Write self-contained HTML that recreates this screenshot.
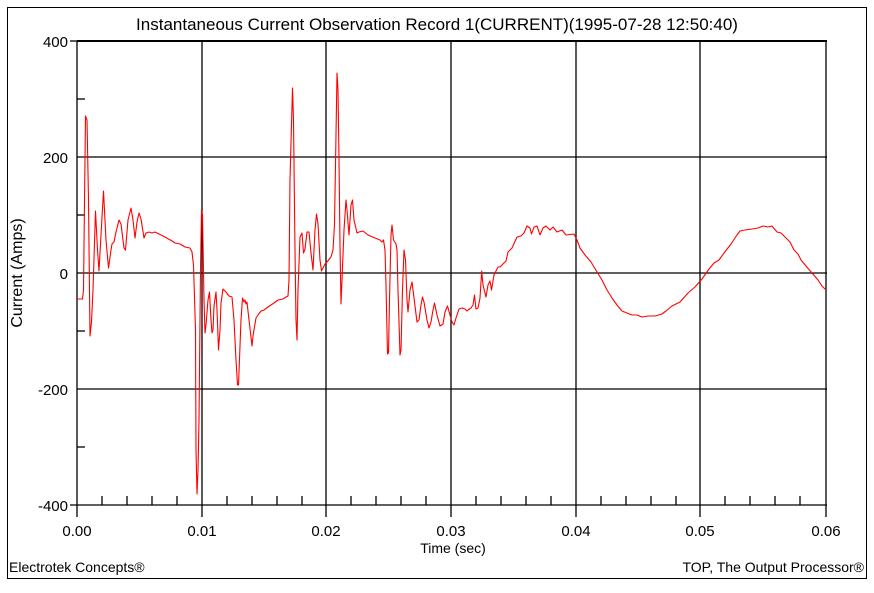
<!DOCTYPE html>
<html><head><meta charset="utf-8"><style>
body{margin:0;background:#fff}
svg text{font-family:"Liberation Sans",Arial,sans-serif;fill:#000}
</style></head><body>
<svg width="874" height="588" viewBox="0 0 874 588" xmlns="http://www.w3.org/2000/svg">
<rect x="7.5" y="7.5" width="859" height="571" fill="none" stroke="#000" stroke-width="1"/>
<text x="437" y="30" font-size="17" text-anchor="middle">Instantaneous Current Observation Record 1(CURRENT)(1995-07-28 12:50:40)</text>
<g stroke="#000" stroke-width="1.3" fill="none">
<line x1="77" y1="41" x2="827" y2="41" stroke-width="2"/>
<line x1="77" y1="41" x2="77" y2="517"/>
<line x1="70" y1="41" x2="77" y2="41"/>
<line x1="70" y1="505" x2="827" y2="505"/>
<line x1="77" y1="157" x2="827" y2="157"/>
<line x1="77" y1="273" x2="827" y2="273"/>
<line x1="77" y1="389" x2="827" y2="389"/>
<line x1="202" y1="41" x2="202" y2="517"/>
<line x1="326" y1="41" x2="326" y2="517"/>
<line x1="451" y1="41" x2="451" y2="517"/>
<line x1="576" y1="41" x2="576" y2="517"/>
<line x1="700" y1="41" x2="700" y2="517"/>
<line x1="826" y1="41" x2="826" y2="517"/>
<line x1="77" y1="99" x2="85" y2="99"/>
<line x1="77" y1="215" x2="85" y2="215"/>
<line x1="77" y1="331" x2="85" y2="331"/>
<line x1="77" y1="447" x2="85" y2="447"/>
<path d="M102 496V505M127 496V505M152 496V505M177 496V505M227 496V505M252 496V505M277 496V505M302 496V505M351 496V505M376 496V505M401 496V505M426 496V505M476 496V505M501 496V505M526 496V505M551 496V505M601 496V505M626 496V505M651 496V505M676 496V505M725 496V505M750 496V505M775 496V505M800 496V505"/>
</g>
<g font-size="15" text-anchor="end">
<text x="68" y="47">400</text>
<text x="68" y="163">200</text>
<text x="68" y="279">0</text>
<text x="68" y="395">-200</text>
<text x="68" y="511">-400</text>
</g>
<g font-size="15" text-anchor="middle">
<text x="77" y="536">0.00</text>
<text x="202" y="536">0.01</text>
<text x="326" y="536">0.02</text>
<text x="451" y="536">0.03</text>
<text x="576" y="536">0.04</text>
<text x="700" y="536">0.05</text>
<text x="826" y="536">0.06</text>
</g>
<text x="453" y="553" font-size="14" text-anchor="middle">Time (sec)</text>
<text transform="translate(22,273) rotate(-90)" font-size="16" text-anchor="middle">Current (Amps)</text>
<text x="9" y="572" font-size="14">Electrotek Concepts®</text>
<text x="864" y="572" font-size="14" text-anchor="end">TOP, The Output Processor®</text>
<polyline fill="none" stroke="#f00" stroke-width="1.1" stroke-linejoin="round" points="77,299 82.5,299 83.5,290 85.5,116 87,120 88.5,200 90,336 91.5,322 93,290 95.5,211 97.5,250 99,271 101,235 103.5,191 106,240 108.5,268 111,250 112,244 114,242 116,232 119,220 121,224 124,248 125.5,250 128,220 131,208 133,220 135,238 137,222 139,213 141,219 144,238 146,233 149,232 152,233 155,232 159,234 165,237 172,241 175,243 180,244 185,247 190,248 192,252 193.5,265 195.5,330 196,450 197,494 198,470 199,420 200.5,270 201.5,210 202.5,215 204,300 205,333 206,325 208,300 209.5,292 211,320 212,333 213,330 214,306 216,292 217,310 218.5,350 220,330 221,303 223,289 226,292 229,296 232,297 234,320 236,360 237.5,385 238.5,385 241,320 242.5,298 244,302 245,300 246,304 247,302 249,320 252,346 253,336 256,318 258,315 261,311 264,310 268,307 271,305 274,303 278,300 283,299 286,297 288,296 289,280 290,180 292.5,88 293.5,120 295,250 296,320 297,340 298,290 300,237 302,233 303.5,253 305,249 307,232 309,232 311,253 313,270 315,230 316.5,214 318,224 320,260 321.5,271 323,268 325,264 327,262 331,257 333,250 334.5,224 336,135 337,73 338,90 339,160 340,245 341,304 342,280 344,230 346,200 347,210 349,235 351,205 352.5,200 354,220 357,233 359,232 363,231 368,235 375,238 380,240 382,242 383.5,240 385,250 386,285 387.5,354 388.5,353 389.5,300 391,235 392,225 393.5,240 396,244 397,250 398,290 400,355 401,350 402.5,290 404,250 405.5,260 407,300 408,312 410,290 412,282 414,298 417,322 419,320 421,305 422.5,297 424,302 427,320 429,328 431,322 433,310 434.5,303 437,315 440,326 443,324 445,312 447.5,306 450,315 452,322 454,325 456,318 459,309 462,308 465,309 467,311 468,310 471,308 473,305 474.5,295 476,309 478,308 480,298 481.7,271 483,285 486,297 488,285 490,281 491.5,290 494,275 498,267 500,267 503,264 506,261 508,252 512,248 517,237 521,236 524,233 527,226 530,228 531.5,234 534,227 537,226 540,235 543,228 546,226 550,230 553,227 557,232 562,230 566,235 574,234 577,240 580,248 585,255 591,262 597,272 602,280 607,290 612,298 617,305 622,311 627,313 632,315 637,315 642,317 648,316 655,316 662,314 666,311 672,306 680,302 688,293 695,287 702,279 709,269 714,263 719,260 724,253 731,244 737,235 740,231 745,230 752,229 758,228 763,226 768,227 772,226 777,232 781,233 785,237 790,242 794,250 798,254 801,260 806,266 812,273 818,280 822,286 826,290"/>
</svg>
</body></html>
